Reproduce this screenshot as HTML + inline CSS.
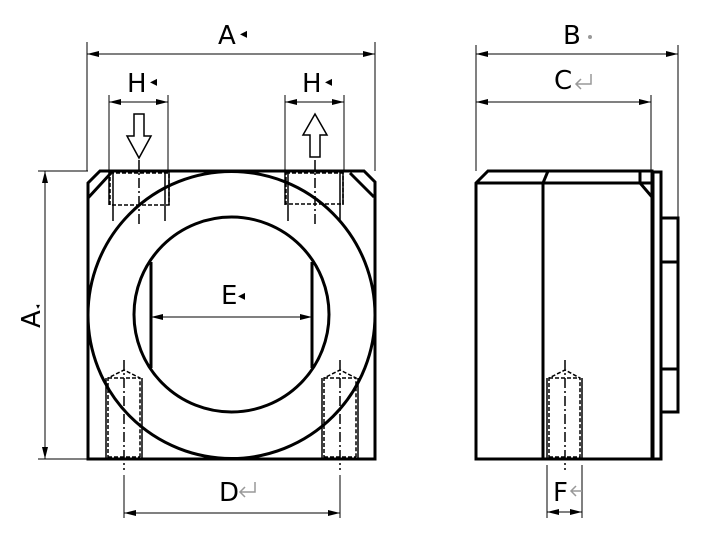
<!DOCTYPE html>
<html><head><meta charset="utf-8"><style>html,body{margin:0;padding:0;background:#fff}svg{display:block}text{font-family:"DejaVu Sans","Liberation Sans",sans-serif;fill:#000}</style></head><body>
<svg width="705" height="533" viewBox="0 0 705 533" xmlns="http://www.w3.org/2000/svg">
<defs>
<marker id="ar" viewBox="0 0 12 6" refX="12" refY="3" markerWidth="12" markerHeight="6" orient="auto-start-reverse" markerUnits="userSpaceOnUse"><path d="M0,0 L12,3 L0,6 z" fill="#000"/></marker>
</defs>
<g fill="none" stroke="#000">
<!-- front view body -->
<path d="M100,171 H364 L375,182 V459 H88 V183 Z" stroke-width="3"/>
<line x1="88" y1="198" x2="111" y2="173" stroke-width="3"/>
<line x1="350" y1="173" x2="374" y2="197" stroke-width="3"/>
<circle cx="231.5" cy="315" r="143.5" stroke-width="3"/>
<circle cx="231.5" cy="314.5" r="97.5" stroke-width="3"/>
<line x1="151" y1="262" x2="151" y2="368" stroke-width="3"/>
<line x1="312" y1="262" x2="312" y2="368" stroke-width="3"/>
<!-- top holes -->
<g stroke-width="1.5">
<rect x="110" y="173" width="59" height="32" stroke-dasharray="4,2"/>
<line x1="113" y1="171" x2="113" y2="221"/><line x1="165" y1="171" x2="165" y2="221"/>
<line x1="109" y1="171" x2="109" y2="205"/><line x1="169" y1="171" x2="169" y2="205"/>
<line x1="139" y1="160" x2="139" y2="225" stroke-dasharray="10,3,2,3"/>
<rect x="286" y="173" width="57" height="31" stroke-dasharray="4,2"/>
<line x1="288" y1="171" x2="288" y2="221"/><line x1="340" y1="171" x2="340" y2="221"/>
<line x1="285" y1="171" x2="285" y2="205"/><line x1="343" y1="171" x2="343" y2="205"/>
<line x1="315" y1="160" x2="315" y2="225" stroke-dasharray="10,3,2,3"/>
</g>
<!-- arrows -->
<path d="M134,114 H144 V136 H151 L139,158 L127,136 H134 Z" stroke-width="1.5"/>
<path d="M310,157 H320 V135 H327 L315,114 L303,135 H310 Z" stroke-width="1.5"/>
<!-- bottom holes -->
<g stroke-width="1.5">
<line x1="106" y1="378" x2="106" y2="459"/><line x1="142" y1="378" x2="142" y2="459"/>
<path d="M108,459 V378 L124,370 L140,378 V459 M108,378 H140 M108,457 H140" stroke-dasharray="4,2"/>
<line x1="124" y1="360" x2="124" y2="470" stroke-dasharray="10,3,2,3"/>
<line x1="322" y1="378" x2="322" y2="459"/><line x1="358" y1="378" x2="358" y2="459"/>
<path d="M324,459 V378 L340,370 L356,378 V459 M324,378 H356 M324,457 H356" stroke-dasharray="4,2"/>
<line x1="340" y1="360" x2="340" y2="470" stroke-dasharray="10,3,2,3"/>
</g>
<!-- front dims -->
<g stroke-width="1">
<line x1="87" y1="42" x2="87" y2="171"/><line x1="375" y1="42" x2="375" y2="171"/>
<line x1="87" y1="54" x2="375" y2="54" marker-start="url(#ar)" marker-end="url(#ar)"/>
<line x1="109" y1="95" x2="109" y2="171"/><line x1="168" y1="95" x2="168" y2="171"/>
<line x1="109" y1="102" x2="168" y2="102" marker-start="url(#ar)" marker-end="url(#ar)"/>
<line x1="285" y1="95" x2="285" y2="171"/><line x1="344" y1="95" x2="344" y2="171"/>
<line x1="285" y1="102" x2="344" y2="102" marker-start="url(#ar)" marker-end="url(#ar)"/>
<line x1="38" y1="171" x2="88" y2="171"/><line x1="38" y1="459" x2="88" y2="459"/>
<line x1="45" y1="171" x2="45" y2="459" marker-start="url(#ar)" marker-end="url(#ar)"/>
<line x1="151" y1="317" x2="312" y2="317" marker-start="url(#ar)" marker-end="url(#ar)"/>
<line x1="124" y1="475" x2="124" y2="518"/><line x1="340" y1="475" x2="340" y2="518"/>
<line x1="124" y1="513" x2="340" y2="513" marker-start="url(#ar)" marker-end="url(#ar)"/>
</g>
<!-- side view -->
<path d="M476,183 L488,171 H652 V459 H476 Z" stroke-width="3"/>
<line x1="476" y1="183" x2="652" y2="183" stroke-width="3"/>
<path d="M543,459 V183 L548,171" stroke-width="3"/>
<path d="M640,171 V183 L652,197" stroke-width="3"/>
<rect x="653" y="172" width="8" height="287" stroke-width="3"/>
<path d="M661,218 H678 V412 H661 M661,262 H678 M661,369 H678" stroke-width="3"/>
<g stroke-width="1.5">
<line x1="547" y1="378" x2="547" y2="459"/><line x1="582" y1="378" x2="582" y2="459"/>
<path d="M549,459 V378 L565,370 L580,378 V459 M549,378 H580 M549,457 H580" stroke-dasharray="4,2"/>
<line x1="565" y1="360" x2="565" y2="470" stroke-dasharray="10,3,2,3"/>
</g>
<g stroke-width="1">
<line x1="476" y1="45" x2="476" y2="171"/><line x1="678" y1="45" x2="678" y2="218"/>
<line x1="476" y1="54" x2="678" y2="54" marker-start="url(#ar)" marker-end="url(#ar)"/>
<line x1="651" y1="95" x2="651" y2="171"/>
<line x1="476" y1="102" x2="651" y2="102" marker-start="url(#ar)" marker-end="url(#ar)"/>
<line x1="547" y1="465" x2="547" y2="518"/><line x1="582" y1="465" x2="582" y2="518"/>
<line x1="547" y1="512" x2="582" y2="512" marker-start="url(#ar)" marker-end="url(#ar)"/>
</g>
</g>
<!-- labels -->
<g font-size="26">
<text x="218" y="44">A</text>
<text x="127" y="92">H</text>
<text x="302" y="92">H</text>
<text x="221" y="304">E</text>
<text x="219" y="501">D</text>
<text x="563" y="44">B</text>
<text x="554" y="89">C</text>
<text x="553" y="501">F</text>
<text transform="translate(40,328) rotate(-90)">A</text>
</g>
<g fill="#999" font-size="14">
<text x="240" y="38">◂</text>
<text x="150" y="86">◂</text>
<text x="325" y="86">◂</text>
<text x="238" y="300">◂</text>
<text x="36" y="309" font-size="8">▾</text>
<circle cx="590" cy="37" r="2" fill="#999"/>
</g>
<g fill="none" stroke="#999" stroke-width="1.5">
<path d="M591,74 V84 H576 M581,79 L576,84 L581,89"/>
<path d="M255,482 V492 H240 M245,487 L240,492 L245,497"/>
<path d="M582,491 H571 M576,486 L571,491 L576,496"/>
</g>
</svg>
</body></html>
